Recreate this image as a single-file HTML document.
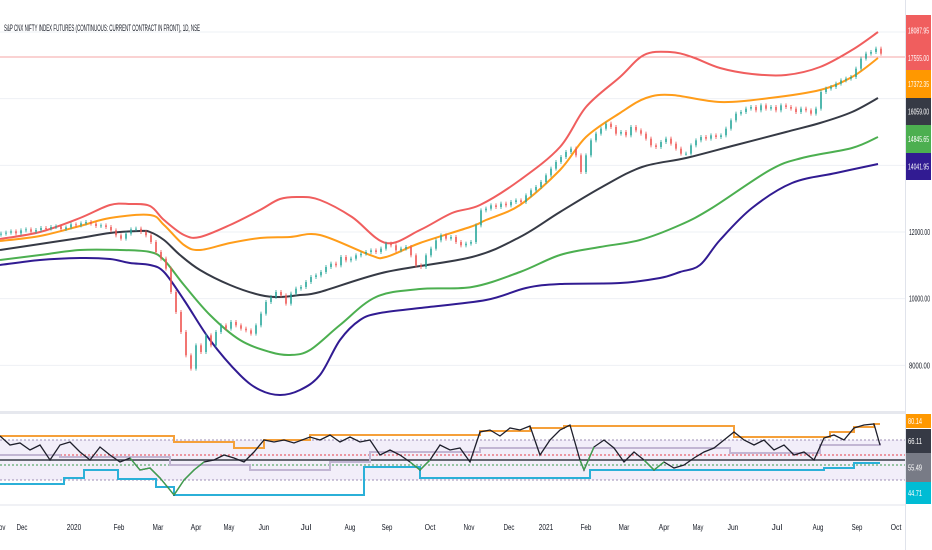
<!DOCTYPE html>
<html><head><meta charset="utf-8">
<style>
html,body{margin:0;padding:0;background:#fff;}
svg{display:block;font-family:"Liberation Sans",sans-serif;}
</style></head>
<body>
<svg id="chart" width="932" height="550" viewBox="0 0 932 550" xmlns="http://www.w3.org/2000/svg">
<rect x="0" y="0" width="932" height="550" fill="#ffffff"/>
<g id="grid"></g>
<g id="bands"></g>
<g id="candles"></g>
<g id="lower"></g>
<g id="axes"></g>
<text x="4" y="31" font-size="9" fill="#131722" textLength="196" lengthAdjust="spacingAndGlyphs">S&amp;P CNX NIFTY INDEX FUTURES (CONTINUOUS: CURRENT CONTRACT IN FRONT), 1D, NSE</text>
</svg>
<script>
// ---------- data ----------
// candle closes, one sample every 2.5 bars
const closes = [11950,11980,12020,11960,12050,12080,12010,12060,12120,12100,12150,12170,12090,12140,12230,12200,12260,12300,12250,12180,12200,12150,12050,11900,11800,11950,12080,12100,12000,11900,11700,11400,11200,10900,10200,9600,9000,8300,7900,8600,8400,8900,8600,9000,9200,9100,9300,9200,9100,9050,8950,9200,9550,9900,10050,10200,10100,9850,10150,10300,10350,10500,10650,10700,
10800,10950,11050,11000,11250,11150,11200,11300,11350,11400,11450,11400,11500,11650,11600,11450,11500,11550,11300,11000,10950,11300,11500,11750,11900,11800,11850,11700,11600,11650,11700,12200,12650,12700,12800,12750,12850,12800,12900,12950,12900,13100,13250,13350,13500,13700,13900,14100,14250,
14400,14500,14300,13800,14300,14750,14950,15100,15250,15150,14950,15000,14900,15150,15050,14950,14800,14600,14550,14700,14800,14650,14500,14350,14350,14600,14750,14850,14800,14900,14850,14900,15100,15350,15550,15600,15700,15750,15650,15800,15700,15750,15650,15800,15750,15700,15600,15700,15650,15550,15700,16200,16300,16350,16450,16550,16600,16650,16900,17200,17350,17400,17500,17350];

const redIdx = [0,20,40,55,65,75,82,92,100,115,130,140,150,160,176,193,210,226,240,260,280,293,310,322,335,346,360,376,393,410,426,439];
const redVal = [11790,12000,12420,12810,12840,12780,12360,11910,11850,12210,12660,12990,13050,12960,12450,11670,12060,12570,12810,13560,14550,15750,16650,17310,17400,17250,16920,16740,16710,16950,17460,18000];

const orangeIdx = [0,20,40,55,75,82,92,100,115,130,145,160,185,193,210,235,243,260,280,293,310,323,336,360,385,410,426,439];
const orangeVal = [11730,11880,12180,12420,12510,12210,11610,11460,11670,11820,11850,11910,11310,11250,11670,12150,12360,12810,13860,14850,15570,16020,16110,15900,16020,16260,16650,17220];

const blackIdx = [0,20,40,55,70,75,82,90,100,115,130,140,150,160,193,236,260,280,301,321,343,368,393,410,426,439];
const blackVal = [11460,11640,11820,11970,12030,12000,11760,11310,10860,10410,10110,10050,10110,10200,10800,11250,11850,12600,13350,13950,14220,14610,15000,15270,15600,16020];

const greenIdx = [0,20,40,60,75,82,92,105,120,135,145,155,170,188,210,236,260,280,300,320,340,356,385,401,426,439];
const greenVal = [11160,11310,11460,11460,11400,11160,10410,9510,8760,8400,8310,8460,9210,10050,10290,10350,10800,11310,11550,11760,12210,12720,13860,14220,14520,14850];

const navyIdx = [0,20,40,55,65,75,82,92,105,120,130,140,150,160,170,180,190,210,243,263,280,310,330,340,350,360,376,396,418,439];
const navyVal = [11010,11160,11220,11190,11070,11010,10800,9960,8760,7710,7260,7110,7260,7710,8760,9360,9570,9720,9960,10320,10440,10470,10620,10800,11010,11760,12720,13470,13770,14040];

// lower pane oscillator
const rsiIdx = [0,5,10,15,20,25,30,35,40,45,50,55,60,65,70,75,80,85,87,92,97,102,107,112,117,122,127,132,137,142,147,155,160,165,170,175,180,185,190,195,200,205,210,215,220,225,230,235,240,245,250,255,260,265,270,275,280,285,290,292,297,302,307,312,317,322,327,332,337,342,347,352,357,362,367,372,377,382,387,392,397,402,407,412,417,422,427,432,437,440];
const rsiVal = [74,65,67,60,65,50,65,68,58,50,63,55,48,52,40,42,32,20,15,30,40,48,50,55,52,48,58,70,68,70,67,73,70,75,68,73,68,70,55,60,55,48,40,50,65,60,62,48,78,80,74,82,80,84,55,70,80,85,50,40,63,70,62,48,58,50,40,48,42,45,52,58,62,70,78,70,65,70,60,65,55,58,50,72,75,70,82,85,86,65];

const upperIdx = [0,87,117,132,155,240,265,282,367,415,427,437,440];
const upperVal = [74,68,62,70,75,79,82,84,73,78,83,86,86];
const lowerIdx = [0,32,42,59,78,87,172,182,210,295,412,427,440];
const lowerVal = [26,32,40,31,23,15,15,43,32,40,42,47,47];
const midIdx = [0,30,85,125,165,185,240,295,365,410,440];
const midVal = [55,53,45,40,48,58,62,62,57,65,67];
const levels = [70,55,50,45,30];

const priceTicks = [18000,16000,14000,12000,10000,8000];
const monthLabels = ["Nov","Dec","2020","Feb","Mar","Apr","May","Jun","Jul","Aug","Sep","Oct","Nov","Dec","2021","Feb","Mar","Apr","May","Jun","Jul","Aug","Sep","Oct"];
const monthBars = [0,11,37,59.5,79,98,114.5,132,153,175,193.5,215,234.5,254.5,273,293,312,332,349,366.5,388.5,409,428.5,448];

// ---------- scales ----------
const NS = "http://www.w3.org/2000/svg";
const xS = b => b * 2;
const yP = p => 232 - (p - 12000) / 30;
const yR = v => 510 - v;
function mk(tag, attrs, parent){
  const e = document.createElementNS(NS, tag);
  for (const k in attrs) e.setAttribute(k, attrs[k]);
  parent.appendChild(e); return e;
}
function smooth(pts){
  let d = "M" + pts[0][0] + "," + pts[0][1];
  for (let i = 0; i < pts.length - 1; i++){
    const p0 = pts[i-1] || pts[i], p1 = pts[i], p2 = pts[i+1], p3 = pts[i+2] || p2;
    const c1x = p1[0] + (p2[0]-p0[0])/6, c1y = p1[1] + (p2[1]-p0[1])/6;
    const c2x = p2[0] - (p3[0]-p1[0])/6, c2y = p2[1] - (p3[1]-p1[1])/6;
    d += " C" + c1x.toFixed(1) + "," + c1y.toFixed(1) + " " + c2x.toFixed(1) + "," + c2y.toFixed(1) + " " + p2[0].toFixed(1) + "," + p2[1].toFixed(1);
  }
  return d;
}
function stepPath(idx, val){
  let d = "";
  for (let i = 0; i < idx.length; i++){
    const x = xS(idx[i]), y = yR(val[i]);
    if (i === 0) d += "M" + x + "," + y;
    else d += " L" + x + "," + yR(val[i-1]) + " L" + x + "," + y;
  }
  return d;
}

// ---------- grid ----------
const grid = document.getElementById("grid");
priceTicks.forEach(t => {
  const l = mk("line", {x1:0, x2:905, y1:yP(t), y2:yP(t), stroke:"#eef0f5", "stroke-width":1}, grid);
  
  
});
const pl = mk("line", {x1:0, x2:905, y1:57, y2:57, stroke:"#f6a5a5", "stroke-width":1}, grid);



// ---------- bands ----------
const bands = document.getElementById("bands");
[["band-upper-red", redIdx, redVal, "#f05e5e"],
 ["band-upper-orange", orangeIdx, orangeVal, "#ff9d1a"],
 ["band-middle-black", blackIdx, blackVal, "#363a45"],
 ["band-lower-green", greenIdx, greenVal, "#4caf50"],
 ["band-lower-navy", navyIdx, navyVal, "#311b92"]].forEach(b => {
  const pts = b[1].map((ix, i) => [xS(ix), yP(b[2][i])]);
  const p = mk("path", {d: smooth(pts), fill:"none", stroke:b[3], "stroke-width":2}, bands);
  
  
});

// ---------- candles ----------
const cg = document.getElementById("candles");
const step = 2.5;
for (let i = 0; i < closes.length; i++){
  const o = i === 0 ? closes[0] - 30 : closes[i-1];
  const c = closes[i];
  const up = c >= o;
  const col = up ? "#26a69a" : "#ef5350";
  const x = xS(i * step) + 1;
  const yT = yP(Math.max(o, c)), yB = yP(Math.min(o, c));
  const w = mk("line", {x1:x, x2:x, y1:yT - 2, y2:yB + 2, stroke:col, "stroke-width":0.8}, cg);
  
  
  const r = mk("rect", {x:x - 0.8, y:yT, width:1.6, height:Math.max(1, yB - yT), fill:col}, cg);
  
  
}

// ---------- lower pane ----------
const lg = document.getElementById("lower");
const sep = mk("rect", {x:0, y:411, width:932, height:3, fill:"#e6e8ee"}, lg);


const fillR = mk("rect", {x:0, y:yR(70), width:905, height:yR(30)-yR(70), fill:"rgba(126,87,194,0.10)"}, lg);


const lvlStyles = [["#9e8fb5","2,2"],["#e5404a","2,2"],["#363a45",""],["#3d9a4f","2,2"],["#9e8fb5","2,2"]];
levels.forEach((v, i) => {
  const a = {x1:0, x2:905, y1:yR(v), y2:yR(v), stroke:lvlStyles[i][0], "stroke-width": i===2 ? 1.5 : 1};
  if (lvlStyles[i][1]) a["stroke-dasharray"] = lvlStyles[i][1];
  const l = mk("line", a, lg);
  
  
});
const mid = mk("path", {d: stepPath(midIdx, midVal), fill:"none", stroke:"#c2b6d3", "stroke-width":2}, lg);


const upL = mk("path", {d: stepPath(upperIdx, upperVal), fill:"none", stroke:"#f5a03a", "stroke-width":2}, lg);


const loL = mk("path", {d: stepPath(lowerIdx, lowerVal), fill:"none", stroke:"#2bb0d8", "stroke-width":2}, lg);


let rd = "";
rsiIdx.forEach((ix, i) => { rd += (i ? " L" : "M") + xS(ix) + "," + yR(rsiVal[i]); });
const rsi = mk("path", {d: rd, fill:"none", stroke:"#1e1f2b", "stroke-width":1.3}, lg);


for (let i = 1; i < rsiIdx.length; i++){
  if (rsiVal[i] < 42 || rsiVal[i-1] < 42){
    const s = mk("line", {x1:xS(rsiIdx[i-1]), y1:yR(rsiVal[i-1]), x2:xS(rsiIdx[i]), y2:yR(rsiVal[i]), stroke:"#3fa34d", "stroke-width":1.3}, lg);
    
    
  }
}
const sep2 = mk("line", {x1:0, x2:932, y1:505, y2:505, stroke:"#e0e3eb", "stroke-width":1}, lg);



// ---------- axes ----------
const ax = document.getElementById("axes");
const pa = mk("rect", {x:905, y:0, width:27, height:550, fill:"#ffffff"}, ax);


const pal = mk("line", {x1:905.5, x2:905.5, y1:0, y2:550, stroke:"#e0e3eb"}, ax);


priceTicks.slice(3).forEach(t => {
  const tx = mk("text", {x:909, y:yP(t)+3, "font-size":8, fill:"#131722", textLength:21, lengthAdjust:"spacingAndGlyphs"}, ax);
  tx.textContent = t.toFixed(2);
  
  
});
const tags = [["18087.95",15,46,"#f05e5e"],["17555.00",46,70,"#f05e5e"],["17372.35",70,98,"#ff9800"],["16059.00",98,125,"#363a45"],["14845.65",125,153,"#4caf50"],["14041.95",153,180,"#311b92"],
 ["80.14",414,428,"#ff9800"],["66.11",429,453,"#363a45"],["55.49",453,482,"#787b86"],["44.71",482,504,"#00bcd4"]];
tags.forEach(t => {
  const r = mk("rect", {x:906, y:t[1], width:25, height:t[2]-t[1], fill:t[3]}, ax);
  
  
  const tx = mk("text", {x:908, y:(t[1]+t[2])/2+3, "font-size":8, fill:"#ffffff", textLength:t[0].length > 5 ? 21 : 14, lengthAdjust:"spacingAndGlyphs"}, ax);
  tx.textContent = t[0];
  
  
});
monthLabels.forEach((m, i) => {
  const tx = mk("text", {x:xS(monthBars[i]), y:530, "font-size":8, fill:"#131722", "text-anchor":"middle", textLength: m.length * 3.6, lengthAdjust:"spacingAndGlyphs"}, ax);
  tx.textContent = m;
  
  
});
</script>
</body></html>
